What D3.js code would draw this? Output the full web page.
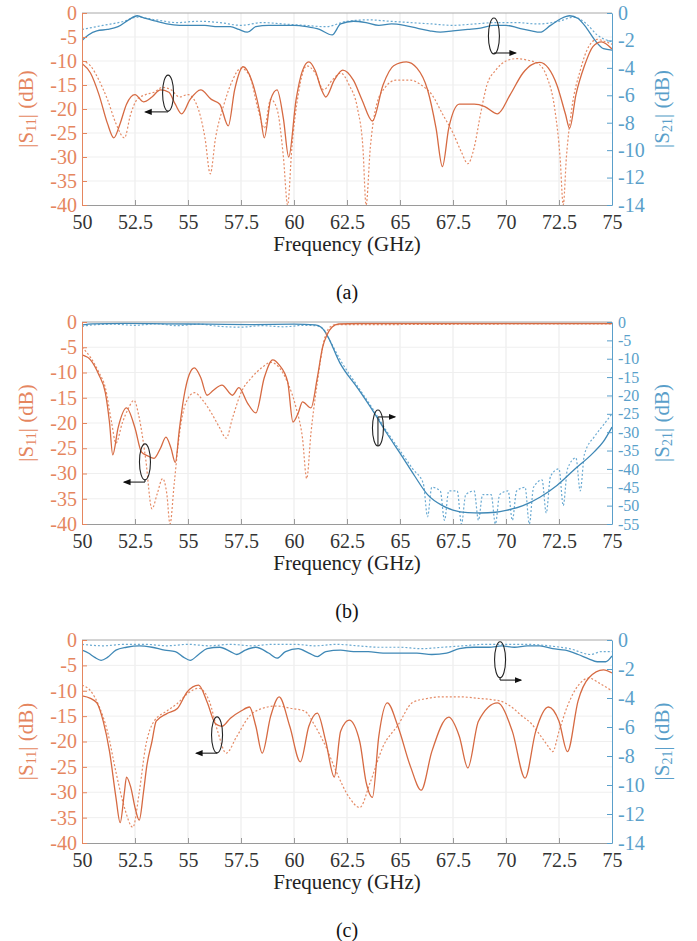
<!DOCTYPE html>
<html>
<head>
<meta charset="utf-8">
<script src="https://cdn.jsdelivr.net/npm/d3@7"></script>
<style>
  body { margin: 0; background: #fff; }
  svg { display: block; }
  svg text { font-family: 'Liberation Serif', 'DejaVu Serif', 'Noto Serif', 'Times New Roman', Times, serif !important; }
</style>
</head>
<body>
<svg id="fig" width="697" height="941"></svg>
<script>
// ---- axis ticks ----
const freqTicks = [50, 52.5, 55, 57.5, 60, 62.5, 65, 67.5, 70, 72.5, 75];
const s11Ticks = [0, -5, -10, -15, -20, -25, -30, -35, -40];
const s21TicksFine = [0, -2, -4, -6, -8, -10, -12, -14];
const s21TicksWide = [0, -5, -10, -15, -20, -25, -30, -35, -40, -45, -50, -55];

// ---- (a) [frequency GHz, dB] ----
const aS11Sim = [[50,-10.5],[50.4,-12.5],[50.8,-17],[51.2,-23],[51.5,-26],[51.8,-23],[52.1,-19],[52.5,-17],[52.9,-18.5],[53.3,-17.5],[53.7,-16],[54.1,-16.5],[54.4,-19],[54.7,-21],[55.1,-18],[55.6,-16],[56.1,-18],[56.5,-19],[56.9,-23.5],[57.2,-16],[57.6,-11.2],[58.0,-14],[58.4,-21],[58.6,-26],[58.9,-18],[59.2,-16],[59.5,-22],[59.75,-30],[60.1,-18],[60.4,-12],[60.7,-10.2],[61.0,-12],[61.3,-16],[61.5,-17.5],[61.9,-14],[62.3,-11.9],[62.8,-14],[63.2,-18],[63.7,-22.5],[64.2,-15],[64.7,-11],[65.3,-10.2],[65.8,-11.5],[66.3,-16],[66.7,-24],[67.0,-32],[67.3,-24],[67.8,-19],[68.5,-19],[69.0,-19.5],[69.6,-21],[70.2,-17],[70.8,-12.5],[71.2,-10.8],[71.6,-10.3],[72.0,-11.5],[72.4,-15],[72.8,-21],[73.0,-24],[73.3,-17],[73.7,-11],[74.1,-7],[74.5,-6],[75,-7.5]];
const aS11Meas = [[50,-10],[50.4,-11],[50.8,-14],[51.2,-18],[51.6,-23],[52.0,-26],[52.3,-21],[52.6,-18],[53.0,-17],[53.4,-16.5],[53.8,-15.5],[54.2,-16],[54.6,-17.5],[55.0,-17],[55.4,-19],[55.8,-26],[56.05,-33.5],[56.3,-26],[56.7,-19],[57.1,-14],[57.5,-11.5],[57.9,-13],[58.3,-20],[58.6,-24],[58.9,-18],[59.2,-20],[59.5,-30],[59.7,-40],[59.9,-28],[60.2,-17],[60.6,-11],[61.0,-12.5],[61.4,-16],[61.8,-14],[62.2,-12.5],[62.6,-15],[63.0,-20],[63.25,-28],[63.4,-40],[63.6,-28],[63.9,-19],[64.3,-15.5],[64.8,-14],[65.5,-14],[66.0,-15],[66.5,-17],[67.0,-21],[67.5,-25],[67.9,-29],[68.2,-31.4],[68.5,-28],[68.8,-21],[69.1,-15],[69.5,-12],[70.0,-10],[70.5,-9.5],[71.0,-9.8],[71.5,-10.5],[71.9,-13],[72.3,-20],[72.55,-30],[72.7,-40],[72.85,-30],[73.1,-20],[73.5,-12],[73.9,-7],[74.3,-5.5],[74.7,-6],[75,-6.5]];
const aS21Sim = [[50,-2.0],[50.3,-1.6],[50.7,-1.3],[51.2,-1.2],[51.7,-1.0],[52.2,-0.5],[52.6,-0.2],[53.0,-0.4],[53.5,-0.6],[54.0,-0.8],[54.6,-0.9],[55.2,-0.9],[55.8,-0.9],[56.4,-1.0],[57.0,-1.0],[57.4,-1.2],[57.8,-1.4],[58.2,-1.0],[58.8,-0.9],[59.4,-0.9],[60.0,-0.9],[60.6,-1.0],[61.2,-1.2],[61.8,-1.6],[62.2,-0.8],[62.8,-0.6],[63.4,-0.7],[64.0,-0.9],[64.6,-0.8],[65.2,-0.9],[65.8,-1.1],[66.4,-1.3],[66.9,-1.4],[67.5,-1.3],[68.2,-1.2],[68.8,-1.1],[69.4,-0.9],[70.0,-0.9],[70.6,-1.1],[71.2,-1.3],[71.6,-1.4],[72.1,-0.9],[72.6,-0.4],[73.0,-0.2],[73.4,-0.4],[73.8,-1.1],[74.2,-2.0],[74.6,-2.6],[75,-2.7]];
const aS21Meas = [[50,-1.2],[51,-0.9],[52,-0.6],[52.6,-0.3],[53.5,-0.5],[54.5,-0.7],[55.5,-0.6],[56.5,-0.7],[57.5,-0.9],[58.5,-0.7],[59.5,-0.8],[60.5,-0.9],[61.5,-1.0],[62.5,-0.6],[63.5,-0.5],[64.5,-0.6],[65.5,-0.7],[66.5,-0.8],[67.5,-0.9],[68.5,-0.8],[69.5,-0.7],[70.5,-0.7],[71.5,-0.8],[72.5,-0.6],[73.2,-0.3],[73.8,-0.8],[74.3,-1.6],[75,-2.1]];

// ---- (b) ----
const bS11Sim = [[50,-6.5],[50.4,-7.5],[50.8,-10.5],[51.1,-14],[51.3,-20],[51.45,-26.3],[51.7,-21],[52.1,-17],[52.5,-21],[52.8,-25.7],[53.1,-26.5],[53.4,-27],[53.7,-25],[53.96,-22.8],[54.2,-25],[54.4,-27.8],[54.6,-21],[54.8,-15],[55.05,-10.5],[55.3,-9.1],[55.6,-11],[55.9,-14.5],[56.2,-13.5],[56.6,-12.5],[57.1,-14.5],[57.4,-13],[57.8,-16],[58.2,-18],[58.6,-11],[59.0,-7.5],[59.3,-8.5],[59.7,-11.8],[59.95,-19.8],[60.2,-18],[60.4,-15.8],[60.8,-17],[61.1,-11],[61.35,-5],[61.55,-2.6],[61.8,-1],[62.1,-0.4],[63,-0.3],[65,-0.3],[67.5,-0.3],[70,-0.3],[72.5,-0.3],[75,-0.3]];
const bS11Meas = [[50,-5],[50.4,-7],[50.8,-10],[51.1,-13],[51.4,-20],[51.6,-24],[51.9,-20],[52.2,-17],[52.45,-15.5],[52.7,-19],[53.0,-27],[53.3,-37],[53.55,-34],[53.8,-31],[54.0,-34],[54.15,-40],[54.35,-32],[54.6,-22],[54.9,-16],[55.3,-14],[55.7,-15.5],[56.1,-18],[56.5,-21],[56.8,-23],[57.1,-19],[57.5,-14],[58.0,-11],[58.5,-9],[58.9,-8],[59.3,-9],[59.7,-12],[60.1,-17],[60.4,-23],[60.6,-31],[60.8,-22],[61.1,-12],[61.4,-4],[61.7,-1],[62,-0.5],[65,-0.5],[70,-0.4],[75,-0.4]];
const bS21Sim = [[50,-0.8],[50.5,-0.5],[52,-0.4],[54,-0.5],[56,-0.6],[58,-0.7],[60,-0.6],[61,-0.8],[61.3,-1.5],[61.55,-3.5],[62.17,-11.2],[63,-18],[63.7,-24],[64.4,-30.5],[65.0,-35.7],[65.7,-42],[66.3,-47],[67.0,-50],[67.5,-51.2],[68.2,-51.9],[68.8,-52],[69.5,-51.8],[70.0,-51.3],[70.8,-50],[71.6,-47.7],[72.4,-44.5],[73.2,-40.3],[74.1,-35.7],[74.6,-32.5],[75,-28.6]];
const bS21Meas = [[50,-1.2],[50.5,-0.8],[51.5,-0.6],[52.5,-0.9],[53.5,-0.5],[54.5,-1.0],[55.5,-0.6],[56.5,-1.2],[57.5,-1.4],[58.5,-1.0],[59.5,-1.3],[60.5,-0.9],[61,-1],[61.4,-2],[61.55,-3.5],[62.2,-10.5],[63,-17.5],[63.7,-23.5],[64.4,-30],[65,-35],[65.6,-40],[66.1,-44],[66.3,-53],[66.5,-45],[66.9,-46],[67.1,-54],[67.3,-46],[67.7,-46],[67.9,-55],[68.1,-47],[68.5,-46],[68.7,-54],[68.9,-47],[69.3,-47],[69.5,-55],[69.7,-47],[70.1,-46],[70.3,-54],[70.5,-46],[70.9,-45],[71.1,-55],[71.3,-45],[71.7,-43],[71.9,-52],[72.1,-42],[72.5,-40],[72.7,-50],[72.9,-40],[73.3,-37],[73.5,-46],[73.7,-36],[74.2,-31],[74.6,-28],[75,-25]];

// ---- (c) ----
const cS11Sim = [[50,-11],[50.4,-11.5],[50.7,-12.4],[51.0,-16],[51.3,-22],[51.6,-31],[51.8,-36],[52.0,-30],[52.1,-27],[52.3,-29],[52.5,-33],[52.7,-35.5],[52.9,-30],[53.05,-25],[53.3,-20],[53.5,-16],[54.0,-14.5],[54.5,-13.5],[54.95,-10.3],[55.5,-8.9],[55.9,-12.2],[56.3,-16.5],[56.6,-17],[57.0,-15.4],[57.5,-14],[57.9,-13.2],[58.2,-17],[58.5,-22.3],[58.9,-15],[59.3,-11.2],[59.8,-17],[60.3,-24],[60.7,-17],[61.1,-14.4],[61.5,-20],[61.9,-27],[62.2,-18],[62.6,-15.8],[63.1,-20],[63.4,-28],[63.7,-31],[64.0,-19],[64.4,-12.4],[64.9,-17],[65.5,-25],[66.0,-29.6],[66.5,-22],[67.3,-15.2],[67.8,-19],[68.2,-25.2],[68.7,-16],[69.6,-12.4],[70.3,-18],[70.9,-27.2],[71.4,-18],[72.0,-13.2],[72.5,-16],[72.9,-22],[73.4,-12],[73.9,-7.5],[74.6,-5.9],[75,-6.5]];
const cS11Meas = [[50,-8.9],[50.4,-10],[50.8,-13],[51.2,-18],[51.6,-26],[52.0,-33],[52.4,-36.9],[52.7,-30],[53.0,-21],[53.4,-16],[54.0,-14],[54.5,-12.5],[55.0,-10.5],[55.5,-9.5],[56.0,-12],[56.4,-18],[56.8,-22.3],[57.3,-19],[57.9,-15],[58.5,-13.5],[59.2,-13],[59.9,-13.5],[60.5,-14],[61.0,-17],[61.5,-21],[62.0,-26],[62.6,-31],[63.1,-33],[63.6,-28],[64.2,-21],[64.9,-16.8],[65.6,-12.3],[66.3,-11.5],[66.9,-11.2],[67.8,-11.2],[68.7,-11.5],[69.7,-12],[70.2,-13],[70.7,-14.8],[71.2,-16.5],[71.6,-18.7],[72.0,-21],[72.2,-22],[72.5,-18],[72.9,-13],[73.4,-9],[73.9,-7.5],[74.4,-8.5],[74.8,-9.5],[75,-10]];
const cS21Sim = [[50,-0.7],[50.3,-0.9],[50.6,-1.2],[50.9,-1.4],[51.2,-1.2],[51.6,-0.7],[52.1,-0.5],[52.7,-0.4],[53.3,-0.5],[53.9,-0.7],[54.4,-0.8],[54.8,-1.2],[55.1,-1.4],[55.5,-1.0],[55.9,-0.6],[56.5,-0.5],[57.0,-0.8],[57.3,-1.0],[57.7,-0.7],[58.2,-0.5],[58.8,-0.9],[59.2,-1.25],[59.6,-0.8],[60.2,-0.6],[60.7,-0.9],[61.1,-1.15],[61.5,-0.8],[62.2,-0.7],[62.8,-0.8],[63.5,-0.8],[64.2,-0.9],[65.0,-0.9],[65.8,-0.9],[66.5,-1.0],[67.2,-0.9],[67.8,-0.6],[68.5,-0.5],[69.2,-0.5],[69.8,-0.4],[70.4,-0.5],[71.0,-0.4],[71.6,-0.4],[72.2,-0.6],[72.8,-0.7],[73.4,-1.0],[73.9,-1.3],[74.3,-1.5],[74.7,-1.5],[75,-1.1]];
const cS21Meas = [[50,-0.3],[51,-0.4],[52,-0.3],[53,-0.3],[54,-0.4],[55,-0.3],[56,-0.4],[57,-0.3],[58,-0.4],[59,-0.3],[60,-0.3],[61,-0.4],[62,-0.3],[63,-0.4],[64,-0.5],[65,-0.5],[66,-0.6],[67,-0.5],[68,-0.4],[69,-0.3],[70,-0.3],[71,-0.3],[72,-0.4],[73,-0.6],[74,-1.0],[74.5,-0.8],[75,-0.8]];

// ---- colours ----
const ORANGE = "#d66a42", ORANGE_LT = "#e58b66", ORANGE_TXT = "#e5865f";
const BLUE = "#3f88b6", BLUE_LT = "#6aaad2", BLUE_TXT = "#5a9fca";
const SERIF = "'Liberation Serif', 'DejaVu Serif', 'Noto Serif', 'Times New Roman', Times, serif";

// ---- layout of the three panels ----
const X0 = 82, X1 = 612;
const panels = [
  { tag: "(a)", top: 13, bottom: 205, s21Ticks: s21TicksFine, s21Font: 20,
    s11: [aS11Sim, aS11Meas], s21: [aS21Sim, aS21Meas],
    marks: [ { f: 54.06, db: -16.7, arrowDb: -20.6, toF: 53.0 },
             { f: 69.43, db: -4.8, arrowDb: -8.33, toF: 70.45 } ] },
  { tag: "(b)", top: 322, bottom: 524, s21Ticks: s21TicksWide, s21Font: 16,
    s11: [bS11Sim, bS11Meas], s21: [bS21Sim, bS21Meas],
    marks: [ { f: 52.97, db: -27.7, arrowDb: -31.7, toF: 52.0 },
             { f: 63.96, db: -21.0, arrowDb: -18.8, toF: 64.75 } ] },
  { tag: "(c)", top: 640, bottom: 843, s21Ticks: s21TicksFine, s21Font: 20,
    s11: [cS11Sim, cS11Meas], s21: [cS21Sim, cS21Meas],
    marks: [ { f: 56.37, db: -18.7, arrowDb: -22.3, toF: 55.4 },
             { f: 69.72, db: -3.9, arrowDb: -7.9, toF: 70.7 } ] }
];

const svg = d3.select("#fig");
const x = d3.scaleLinear().domain([50, 75]).range([X0, X1]);
const numFmt = d => String(d);

const defs = svg.append("defs");
defs.append("marker").attr("id", "head").attr("viewBox", "0 0 10 10")
  .attr("refX", 8).attr("refY", 5).attr("markerWidth", 7).attr("markerHeight", 7)
  .attr("orient", "auto-start-reverse")
  .append("path").attr("d", "M0,1 L10,5 L0,9 Z").attr("fill", "#111");

panels.forEach((p, i) => {
  const g = svg.append("g").attr("font-family", SERIF);
  const yL = d3.scaleLinear().domain([-40, 0]).range([p.bottom, p.top]);
  const r0 = d3.min(p.s21Ticks);
  const yR = d3.scaleLinear().domain([r0, 0]).range([p.bottom, p.top]);

  // grid
  g.append("g").selectAll("line").data(freqTicks.slice(1, -1)).join("line")
    .attr("x1", d => x(d)).attr("x2", d => x(d))
    .attr("y1", p.top).attr("y2", p.bottom)
    .attr("stroke", "#e9e9e9").attr("stroke-width", 1);
  g.append("g").selectAll("line").data(s11Ticks.slice(1, -1)).join("line")
    .attr("x1", X0).attr("x2", X1)
    .attr("y1", d => yL(d)).attr("y2", d => yL(d))
    .attr("stroke", "#efefef").attr("stroke-width", 1);

  // curves
  const clipId = "clip" + i;
  defs.append("clipPath").attr("id", clipId).append("rect")
    .attr("x", X0).attr("y", p.top - 1).attr("width", X1 - X0).attr("height", p.bottom - p.top + 1);
  const plot = g.append("g").attr("clip-path", `url(#${clipId})`);
  const lineL = d3.line().x(d => x(d[0])).y(d => yL(d[1])).curve(d3.curveMonotoneX);
  const lineR = d3.line().x(d => x(d[0])).y(d => yR(d[1])).curve(d3.curveMonotoneX);

  plot.append("path").datum(p.s21[1]).attr("d", lineR).attr("fill", "none")
    .attr("stroke", BLUE_LT).attr("stroke-width", 1.2).attr("stroke-dasharray", "2,2");
  plot.append("path").datum(p.s21[0]).attr("d", lineR).attr("fill", "none")
    .attr("stroke", BLUE).attr("stroke-width", 1.3);
  plot.append("path").datum(p.s11[1]).attr("d", lineL).attr("fill", "none")
    .attr("stroke", ORANGE_LT).attr("stroke-width", 1.2).attr("stroke-dasharray", "2,2");
  plot.append("path").datum(p.s11[0]).attr("d", lineL).attr("fill", "none")
    .attr("stroke", ORANGE).attr("stroke-width", 1.3);

  // axes
  const bx = g.append("g").attr("transform", `translate(0,${p.bottom})`)
    .call(d3.axisBottom(x).tickValues(freqTicks).tickFormat(numFmt)
      .tickSizeInner(-5).tickSizeOuter(0).tickPadding(10));
  bx.attr("font-family", SERIF);
  bx.select(".domain").attr("stroke", "#9a9a9a");
  bx.selectAll(".tick line").attr("stroke", "#9a9a9a");
  bx.selectAll("text").attr("font-size", 20).attr("fill", "#333");

  g.append("line").attr("x1", X0).attr("x2", X1).attr("y1", p.top).attr("y2", p.top)
    .attr("stroke", "#a8a8a8");

  const lx = g.append("g").attr("transform", `translate(${X0},0)`)
    .call(d3.axisLeft(yL).tickValues(s11Ticks).tickFormat(numFmt)
      .tickSizeInner(-5).tickSizeOuter(0).tickPadding(5));
  lx.attr("font-family", SERIF);
  lx.select(".domain").attr("stroke", ORANGE_TXT);
  lx.selectAll(".tick line").attr("stroke", ORANGE_TXT);
  lx.selectAll("text").attr("font-size", 20).attr("fill", ORANGE_TXT);

  const rx = g.append("g").attr("transform", `translate(${X1},0)`)
    .call(d3.axisRight(yR).tickValues(p.s21Ticks).tickFormat(numFmt)
      .tickSizeInner(-5).tickSizeOuter(0).tickPadding(6));
  rx.attr("font-family", SERIF);
  rx.select(".domain").attr("stroke", BLUE_TXT);
  rx.selectAll(".tick line").attr("stroke", BLUE_TXT);
  rx.selectAll("text").attr("font-size", p.s21Font).attr("fill", BLUE_TXT);

  // axis titles
  const midY = (p.top + p.bottom) / 2;
  const lt = g.append("text").attr("transform", `translate(28,${midY}) rotate(-90)`)
    .attr("text-anchor", "middle").attr("dominant-baseline", "middle")
    .attr("font-size", 21).attr("fill", ORANGE_TXT);
  lt.append("tspan").text("|S");
  lt.append("tspan").text("11").attr("font-size", 14).attr("dy", 5);
  lt.append("tspan").text("| (dB)").attr("dy", -5);

  const rt = g.append("text").attr("transform", `translate(664,${midY}) rotate(-90)`)
    .attr("text-anchor", "middle").attr("dominant-baseline", "middle")
    .attr("font-size", 21).attr("fill", BLUE_TXT);
  rt.append("tspan").text("|S");
  rt.append("tspan").text("21").attr("font-size", 14).attr("dy", 5);
  rt.append("tspan").text("| (dB)").attr("dy", -5);

  g.append("text").attr("x", (X0 + X1) / 2).attr("y", p.bottom + 46)
    .attr("text-anchor", "middle").attr("font-size", 21).attr("fill", "#222")
    .text("Frequency (GHz)");

  g.append("text").attr("x", (X0 + X1) / 2).attr("y", p.bottom + 94)
    .attr("text-anchor", "middle").attr("font-size", 20).attr("fill", "#111")
    .text(p.tag);

  // curve-group markers: loop around the traces with an arrow to their axis
  p.marks.forEach(m => {
    const cx = x(m.f), cy = yL(m.db), ay = yL(m.arrowDb);
    g.append("ellipse").attr("cx", cx).attr("cy", cy).attr("rx", 5.5).attr("ry", 18)
      .attr("fill", "none").attr("stroke", "#222").attr("stroke-width", 1.1);
    g.append("line").attr("x1", cx).attr("x2", cx).attr("y1", cy + 18).attr("y2", ay)
      .attr("stroke", "#222").attr("stroke-width", 1.1);
    g.append("line").attr("x1", cx).attr("x2", x(m.toF)).attr("y1", ay).attr("y2", ay)
      .attr("stroke", "#222").attr("stroke-width", 1.1).attr("marker-end", "url(#head)");
  });
});
</script>
</body>
</html>
